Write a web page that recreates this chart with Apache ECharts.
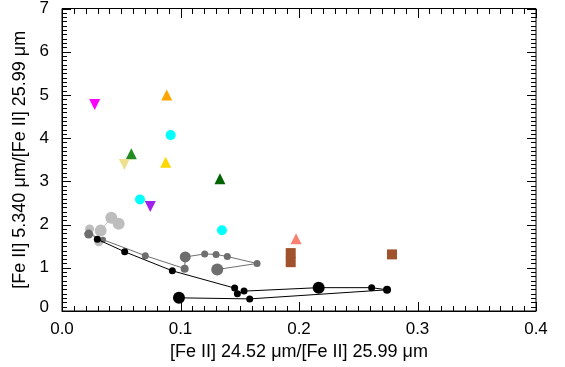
<!DOCTYPE html>
<html>
<head>
<meta charset="utf-8">
<script src="https://cdn.jsdelivr.net/npm/echarts@6/dist/echarts.min.js"></script>
<style>
html,body{margin:0;padding:0;background:#fff;}
#chart{width:565px;height:367px;background:#fff;}
</style>
</head>
<body>
<div id="chart"></div>
<script>
// ---- data ----
const xTickLabels = ['0.0', '0.1', '0.2', '0.3', '0.4'];
const yTickLabels = ['0', '1', '2', '3', '4', '5', '6', '7'];

// light gray track
const lightX = [0.0233, 0.0310, 0.0326, 0.0416, 0.0478];
const lightY = [1.90, 1.60, 1.86, 2.16, 2.02];
const lightSize = [9, 9, 12, 12, 12];

// dark gray track
const grayX = [0.0225, 0.0346, 0.0703, 0.1035, 0.1040, 0.1204, 0.1300, 0.1395, 0.1646, 0.1310];
const grayY = [1.78, 1.65, 1.28, 0.98, 1.25, 1.32, 1.31, 1.26, 1.10, 0.96];
const graySize = [9, 6, 7, 8, 11, 7, 7, 7, 7, 12];

// black track
const blackX = [0.0298, 0.0529, 0.0931, 0.1457, 0.1480, 0.1536, 0.2166, 0.2613, 0.2743, 0.1584, 0.0987];
const blackY = [1.66, 1.37, 0.93, 0.53, 0.40, 0.46, 0.54, 0.54, 0.49, 0.28, 0.305];
const blackSize = [7, 7, 7, 7, 7, 7, 12, 7, 8, 7, 12];

// individual objects
const magentaDown = [[0.0276, 4.78]];
const orangeUp = [[0.0884, 5.00]];
const cyanCircle = [[0.0917, 4.07], [0.0658, 2.58], [0.1350, 1.87]];
const greenUp = [[0.0585, 3.64]];
const khakiDown = [[0.0526, 3.39]];
const goldUp = [[0.0875, 3.44]];
const darkGreenUp = [[0.1333, 3.06]];
const purpleDown = [[0.0745, 2.42]];
const salmonUp = [[0.1975, 1.67]];
const siennaSquare = [[0.1930, 1.34], [0.1930, 1.13], [0.2785, 1.31]];

// ---- chart ----
const zip = (xs, ys) => xs.map((x, i) => [x, ys[i]]);
const font = 'Liberation Sans, Arial, Helvetica, sans-serif';
const X_MIN = 0, X_MAX = 0.4, X_MAJOR = 0.1, X_MINOR_PER_MAJOR = 10;
const Y_MIN = 0, Y_MAX = 7, Y_MAJOR = 1, Y_MINOR_PER_MAJOR = 10;
const MAJOR_LEN = 9, MINOR_LEN = 5;

const chart = echarts.init(document.getElementById('chart'), null, { renderer: 'canvas' });

function track(name, xs, ys, sizes, color, z) {
  return {
    name, type: 'line', data: zip(xs, ys), z,
    symbol: 'circle',
    symbolSize: (v, p) => sizes[p.dataIndex],
    lineStyle: { color, width: 1 },
    itemStyle: { color, borderWidth: 0, opacity: 1 },
    showSymbol: true, animation: false
  };
}
function marks(name, data, symbol, color, size, rotate) {
  return {
    name, type: 'scatter', data, symbol, symbolSize: size,
    symbolRotate: rotate || 0,
    itemStyle: { color, borderWidth: 0, opacity: 1 }, z: 5, animation: false
  };
}

// inward ticks on all four sides of the frame, placed through the axes' own scales
function frameTicks(params, api) {
  const children = [];
  const seg = (x1, y1, x2, y2) => ({ type: 'line', silent: true,
    shape: { x1, y1, x2, y2 }, style: { stroke: '#000', lineWidth: 1, opacity: 1 } });
  const bottom = Math.round(api.coord([X_MIN, Y_MIN])[1]);
  const top = Math.round(api.coord([X_MIN, Y_MAX])[1]);
  const left = Math.round(api.coord([X_MIN, Y_MIN])[0]);
  const right = Math.round(api.coord([X_MAX, Y_MIN])[0]);
  const nx = Math.round((X_MAX - X_MIN) / X_MAJOR) * X_MINOR_PER_MAJOR;
  for (let i = 0; i <= nx; i++) {
    const v = X_MIN + (X_MAJOR / X_MINOR_PER_MAJOR) * i;
    const len = i % X_MINOR_PER_MAJOR === 0 ? MAJOR_LEN : MINOR_LEN;
    const px = Math.round(api.coord([v, Y_MIN])[0]) + 0.5;
    children.push(seg(px, bottom, px, bottom - len));
    children.push(seg(px, top, px, top + len));
  }
  const ny = Math.round((Y_MAX - Y_MIN) / Y_MAJOR) * Y_MINOR_PER_MAJOR;
  for (let i = 0; i <= ny; i++) {
    const v = Y_MIN + (Y_MAJOR / Y_MINOR_PER_MAJOR) * i;
    const len = i % Y_MINOR_PER_MAJOR === 0 ? MAJOR_LEN : MINOR_LEN;
    const py = Math.round(api.coord([X_MIN, v])[1]) + 0.5;
    children.push(seg(left, py, left + len, py));
    children.push(seg(right, py, right - len, py));
  }
  return { type: 'group', children };
}

chart.setOption({
  animation: false,
  grid: { left: 62, right: 29, top: 1, bottom: 56, show: true, borderColor: '#000', borderWidth: 1,
    backgroundColor: 'transparent' },
  xAxis: {
    type: 'value', min: X_MIN, max: X_MAX, interval: X_MAJOR, position: 'bottom',
    axisLine: { show: true, onZero: false, lineStyle: { color: '#000', width: 1 } },
    axisTick: { show: false },
    splitLine: { show: false },
    axisLabel: { show: true, margin: 10, color: '#000', fontSize: 17, fontFamily: font,
      formatter: (v) => xTickLabels[Math.round(v / X_MAJOR)] },
    name: '[Fe II] 24.52 \u03bcm/[Fe II] 25.99 \u03bcm', nameLocation: 'middle', nameGap: 29,
    nameTextStyle: { color: '#000', fontSize: 18, fontFamily: font }
  },
  yAxis: {
    type: 'value', min: Y_MIN, max: Y_MAX, interval: Y_MAJOR, position: 'left',
    axisLine: { show: true, onZero: false, lineStyle: { color: '#000', width: 1 } },
    axisTick: { show: false },
    splitLine: { show: false },
    axisLabel: { show: true, margin: 13, color: '#000', fontSize: 17, fontFamily: font,
      formatter: (v) => Math.round(v) === 0 ? '{z|' + yTickLabels[0] + '}' : yTickLabels[Math.round(v)],
      rich: { z: { fontSize: 17, fontFamily: font, color: '#000', padding: [0, 0, 7, 0] } } },
    name: '[Fe II] 5.340 \u03bcm/[Fe II] 25.99 \u03bcm', nameLocation: 'middle', nameGap: 29,
    nameRotate: 90,
    nameTextStyle: { color: '#000', fontSize: 18, fontFamily: font }
  },
  series: [
    track('light', lightX, lightY, lightSize, '#bdbdbd', 2),
    track('gray', grayX, grayY, graySize, '#6e6e6e', 3),
    track('black', blackX, blackY, blackSize, '#000000', 4),
    marks('magenta', magentaDown, 'triangle', '#ff00ff', 11, 180),
    marks('orange', orangeUp, 'triangle', '#ffa500', 11),
    marks('cyan', cyanCircle, 'circle', '#00ffff', 10),
    marks('green', greenUp, 'triangle', '#228b22', 11),
    marks('khaki', khakiDown, 'triangle', '#eee08c', 11, 180),
    marks('gold', goldUp, 'triangle', '#ffd700', 11),
    marks('darkgreen', darkGreenUp, 'triangle', '#006400', 11),
    marks('purple', purpleDown, 'triangle', '#a020f0', 11, 180),
    marks('salmon', salmonUp, 'triangle', '#fa8072', 11),
    marks('sienna', siennaSquare, 'rect', '#a0522d', 10),
    { name: 'ticks', type: 'custom', renderItem: frameTicks, data: [[X_MIN, Y_MIN]],
      zlevel: 1, z: 100, silent: true, clip: false, animation: false,
      encode: { x: 0, y: 1 } }
  ]
});
</script>
</body>
</html>
